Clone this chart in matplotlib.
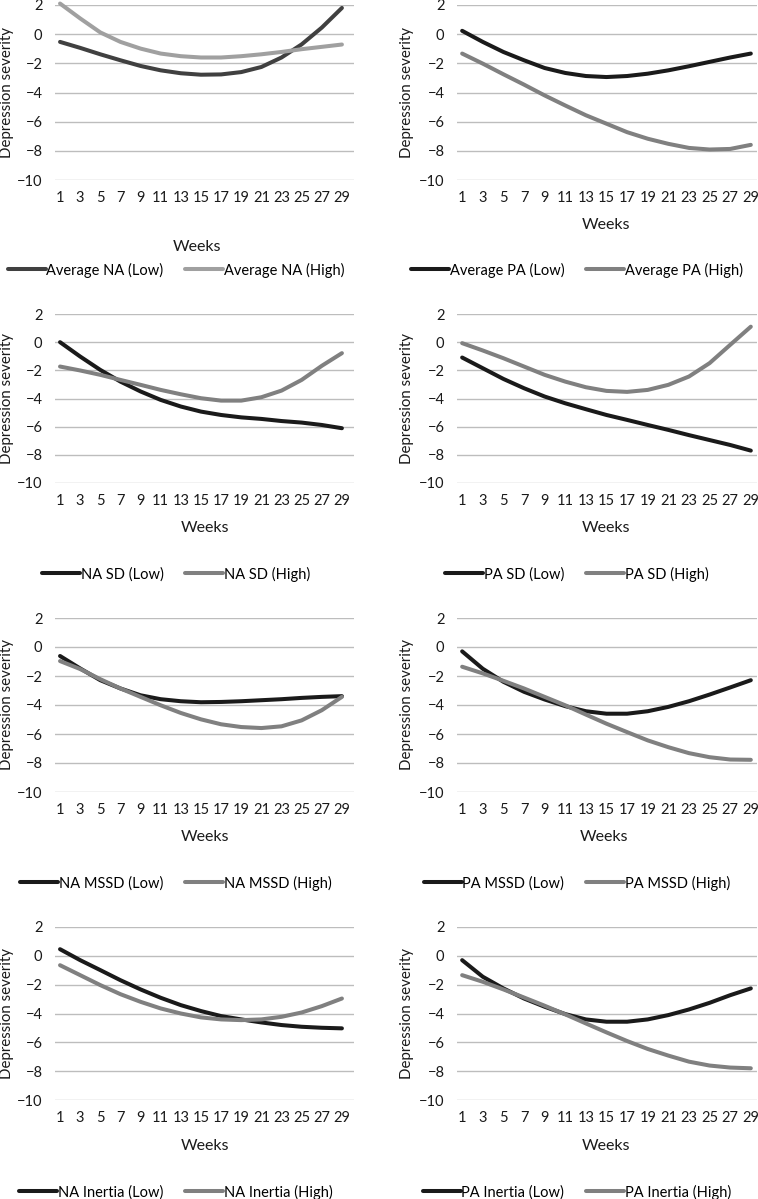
import matplotlib
matplotlib.use("Agg")
import matplotlib.pyplot as plt

plt.rcParams['font.family'] = ['Lato', 'DejaVu Sans']

weeks = [1, 3, 5, 7, 9, 11, 13, 15, 17, 19, 21, 23, 25, 27, 29]
tick_weeks = list(range(1, 30, 2))
y_ticks = [2, 0, -2, -4, -6, -8, -10]

avg_na_low = [-0.53, -0.94, -1.38, -1.79, -2.18, -2.48, -2.68, -2.78, -2.76, -2.6, -2.25, -1.6, -0.7, 0.45, 1.8]
avg_na_high = [2.1, 1.08, 0.12, -0.53, -0.99, -1.33, -1.51, -1.6, -1.6, -1.51, -1.38, -1.22, -1.03, -0.87, -0.71]
avg_pa_low = [0.23, -0.53, -1.22, -1.79, -2.32, -2.66, -2.87, -2.94, -2.87, -2.71, -2.48, -2.2, -1.9, -1.6, -1.33]
avg_pa_high = [-1.33, -2.02, -2.75, -3.46, -4.2, -4.89, -5.56, -6.14, -6.72, -7.17, -7.52, -7.8, -7.91, -7.87, -7.59]
na_sd_low = [0.0, -1.02, -1.97, -2.8, -3.5, -4.1, -4.57, -4.93, -5.17, -5.34, -5.45, -5.6, -5.71, -5.88, -6.11]
na_sd_high = [-1.73, -2.01, -2.32, -2.68, -3.03, -3.39, -3.7, -3.98, -4.15, -4.15, -3.91, -3.44, -2.68, -1.68, -0.78]
pa_sd_low = [-1.09, -1.85, -2.61, -3.27, -3.86, -4.34, -4.76, -5.17, -5.52, -5.88, -6.23, -6.6, -6.95, -7.3, -7.7]
pa_sd_high = [-0.07, -0.59, -1.14, -1.73, -2.32, -2.8, -3.2, -3.46, -3.53, -3.39, -3.03, -2.44, -1.49, -0.19, 1.1]
na_mssd_low = [-0.62, -1.48, -2.29, -2.86, -3.33, -3.6, -3.74, -3.81, -3.79, -3.74, -3.67, -3.6, -3.51, -3.44, -3.39]
na_mssd_high = [-0.97, -1.52, -2.22, -2.86, -3.44, -4.02, -4.55, -4.99, -5.33, -5.52, -5.59, -5.47, -5.06, -4.36, -3.44]
pa_mssd_low = [-0.3, -1.5, -2.4, -3.09, -3.62, -4.08, -4.43, -4.6, -4.6, -4.43, -4.13, -3.74, -3.28, -2.79, -2.29]
pa_mssd_high = [-1.36, -1.82, -2.33, -2.86, -3.44, -4.02, -4.66, -5.29, -5.87, -6.44, -6.91, -7.32, -7.6, -7.76, -7.78]
na_inertia_low = [0.46, -0.3, -0.99, -1.69, -2.33, -2.91, -3.42, -3.83, -4.18, -4.41, -4.62, -4.8, -4.92, -4.99, -5.03]
na_inertia_high = [-0.65, -1.34, -2.03, -2.66, -3.19, -3.65, -4.0, -4.27, -4.41, -4.46, -4.41, -4.23, -3.93, -3.49, -2.96]
pa_inertia_low = [-0.3, -1.45, -2.26, -2.96, -3.53, -4.04, -4.41, -4.57, -4.57, -4.41, -4.11, -3.72, -3.26, -2.73, -2.26]
pa_inertia_high = [-1.34, -1.8, -2.33, -2.89, -3.46, -4.06, -4.69, -5.31, -5.91, -6.46, -6.92, -7.34, -7.61, -7.75, -7.8]

low_labels = ['Average NA (Low)', 'Average PA (Low)', 'NA SD (Low)', 'PA SD (Low)',
              'NA MSSD (Low)', 'PA MSSD (Low)', 'NA Inertia (Low)', 'PA Inertia (Low)']
high_labels = ['Average NA (High)', 'Average PA (High)', 'NA SD (High)', 'PA SD (High)',
               'NA MSSD (High)', 'PA MSSD (High)', 'NA Inertia (High)', 'PA Inertia (High)']
low_series = [avg_na_low, avg_pa_low, na_sd_low, pa_sd_low,
              na_mssd_low, pa_mssd_low, na_inertia_low, pa_inertia_low]
high_series = [avg_na_high, avg_pa_high, na_sd_high, pa_sd_high,
               na_mssd_high, pa_mssd_high, na_inertia_high, pa_inertia_high]

W, H = 758, 1199
fig = plt.figure(figsize=(W / 100, H / 100), dpi=100)

# pixel layout: (left, right, xmax) per column, (top, bottom) per row
cols = [(55, 354, 30.2), (457, 757, 29.6)]
rows = [(5, 180), (314, 483), (618, 792), (927, 1100)]
ylab_x = [7, 407]
weeks_pos = [[(197, 247), (606, 225)], [(205, 528), (606, 528)],
             [(205, 837), (604, 837)], [(205, 1146), (606, 1146)]]
legend_y = [270, 574, 883, 1192]
legend_x = [176, 577]
txt_col = '#1a1a1a'


def fx(px):
    return px / W


def fy(py):
    return 1 - py / H


for i in range(8):
    r, c = divmod(i, 2)
    left, right, xmax = cols[c]
    top, bottom = rows[r]
    ax = fig.add_axes([fx(left), fy(bottom), fx(right - left), (bottom - top) / H])

    if i == 0:
        low_col, high_col = '#404040', '#a0a0a0'
    else:
        low_col, high_col = '#1a1a1a', '#808080'

    l1, = ax.plot(weeks, low_series[i], color=low_col, lw=2.9, solid_capstyle='round',
                  solid_joinstyle='round', clip_on=False, zorder=3, label=low_labels[i])
    l2, = ax.plot(weeks, high_series[i], color=high_col, lw=2.9, solid_capstyle='round',
                  solid_joinstyle='round', clip_on=False, zorder=3, label=high_labels[i])

    ax.set_xlim(0.5, xmax)
    ax.set_ylim(-10, 2)
    ax.set_yticks(y_ticks)
    ax.set_xticks(tick_weeks)
    ax.grid(axis='y', color='#bdbdbd', lw=1.0)
    ax.grid(axis='x', visible=False)
    ax.set_axisbelow(True)
    for s in ax.spines.values():
        s.set_visible(False)
    ax.tick_params(length=0, labelsize=10.5, colors=txt_col)
    ax.tick_params(axis='y', pad=9)
    ax.tick_params(axis='x', pad=8)
    ax.set_facecolor('none')

    fig.text(fx(ylab_x[c]), fy((top + bottom) / 2), 'Depression severity', rotation=90,
             ha='center', va='center', fontsize=10.8, color=txt_col)
    wx, wy = weeks_pos[r][c]
    fig.text(fx(wx), fy(wy), 'Weeks', ha='center', va='center', fontsize=11.5, color=txt_col)

    fig.legend(handles=[l1, l2], loc='center', ncol=2, frameon=False, fontsize=10.5,
               bbox_to_anchor=(fx(legend_x[c]), fy(legend_y[r])),
               handlelength=2.6, handletextpad=0.05, columnspacing=1.5, borderpad=0)

fig.savefig('out.png', dpi=100)
